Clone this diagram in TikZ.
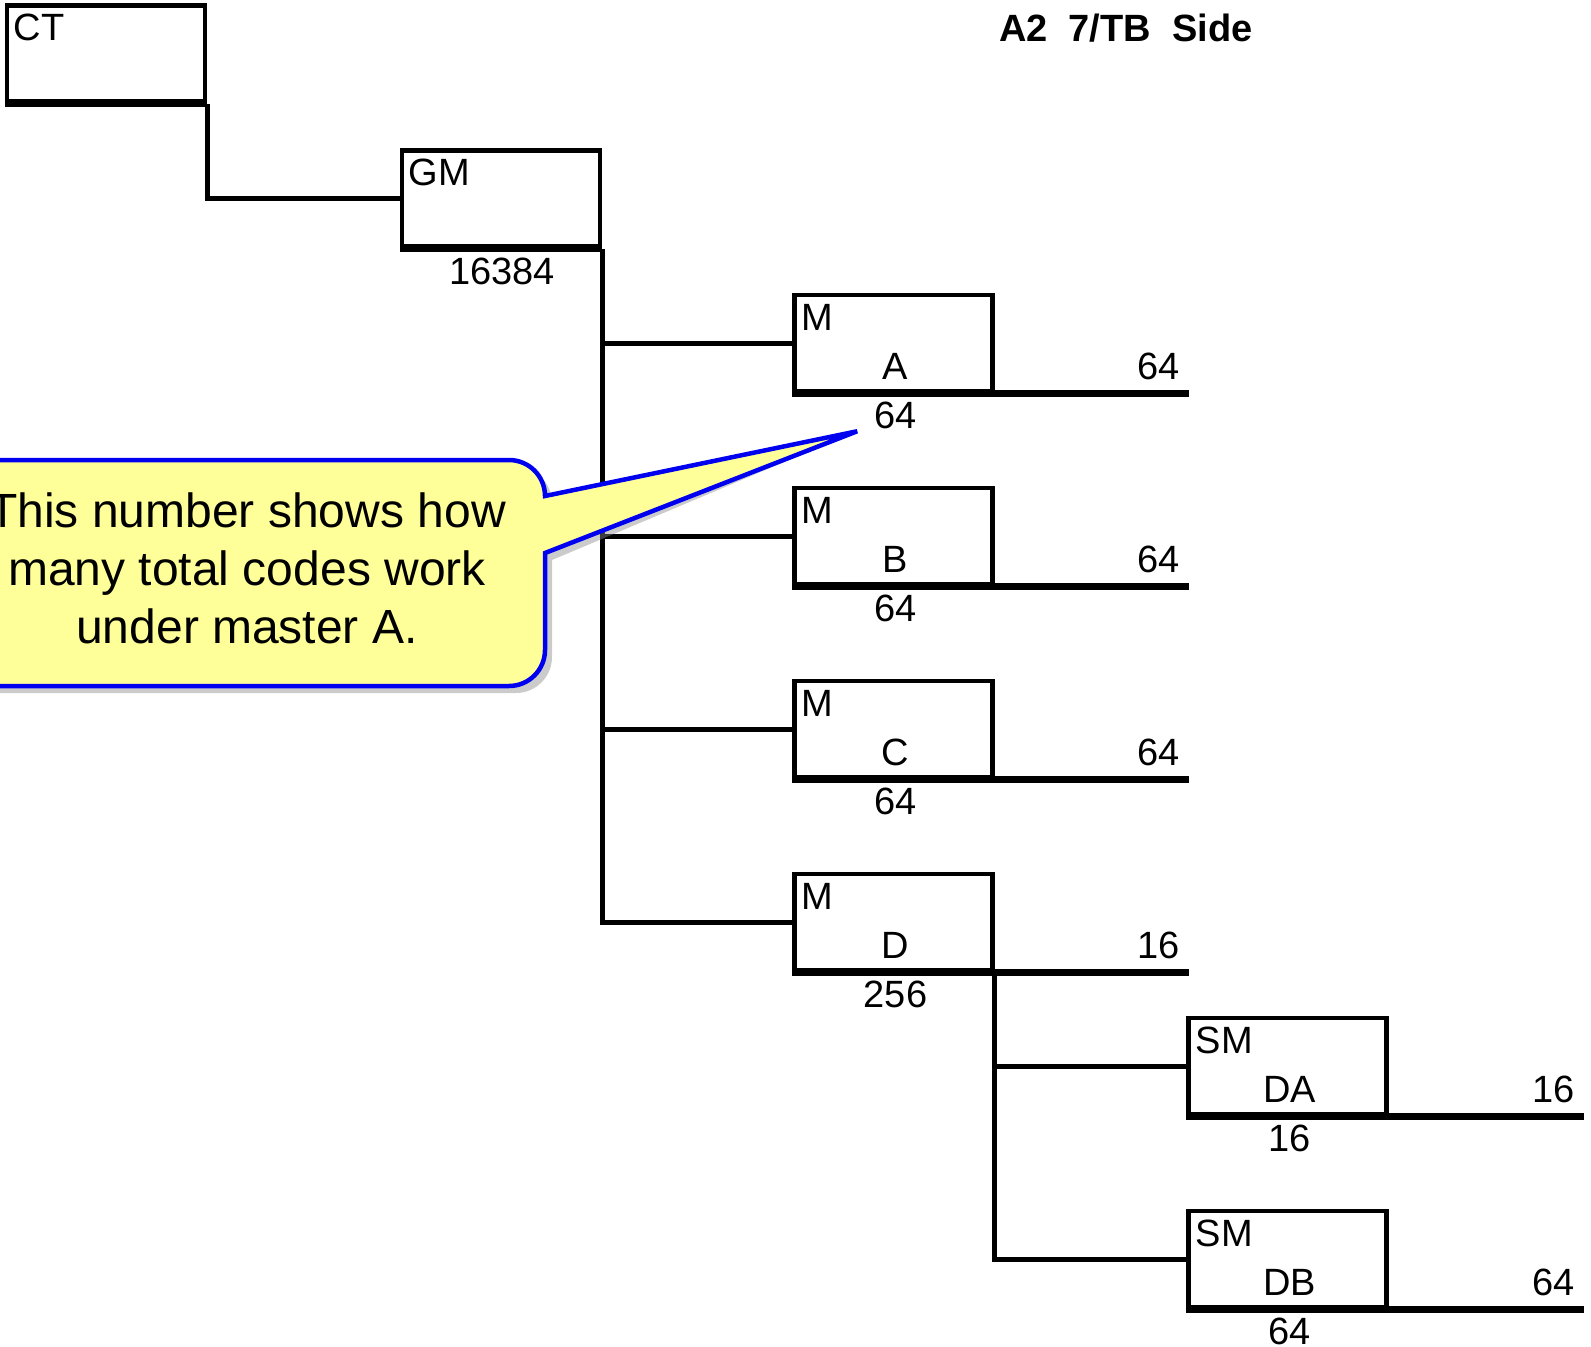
\documentclass[tikz,border=0pt]{standalone}
\usepackage{fontspec}
\setmainfont{Liberation Sans}
\usepackage{tikz}
\usetikzlibrary{positioning, calc}
\definecolor{NoteBlue}{RGB}{0, 0, 240}
\definecolor{NoteYellow}{RGB}{255, 255, 153}
\definecolor{NoteShadow}{RGB}{140, 140, 140}

\tikzset{
  unitbox/.style={draw, line width=4.5pt, minimum width=198pt, minimum height=96pt, inner sep=0pt},
  wire/.style={line width=5pt},
  bar/.style={line width=7pt},
  lbl/.style={inner sep=0pt, font=\fontsize{38}{44}\selectfont}
}

\begin{document}
\begin{tikzpicture}[x=1pt, y=-1pt]
  \useasboundingbox (0,0) rectangle (1591,1347);
  \node[anchor=base west, inner sep=0pt, font=\bfseries\fontsize{38}{44}\selectfont] (title) at (999,41) {A2\ \ 7/TB\ \ Side};

  \node[unitbox] (ct) at (106,53.5) {};
  \node[unitbox] (gm) at (501,198.5) {};
  \node[unitbox] (ma) at (893.5,343) {};
  \node[unitbox] (mb) at (893.5,536) {};
  \node[unitbox] (mc) at (893.5,729) {};
  \node[unitbox] (md) at (893.5,922) {};
  \node[unitbox] (sda) at (1287.7,1066) {};
  \node[unitbox] (sdb) at (1287.7,1259) {};
  \coordinate (endM) at (1189,0);
  \coordinate (endS) at (1584,0);

  \draw[wire] (ct.south east) |- (gm.west);
  \draw[wire] (gm.south east) |- (md.west);
  \foreach \b in {ma, mb, mc}
    \draw[wire] (gm.east |- \b.west) -- (\b.west);
  \draw[wire] (md.south east) |- (sdb.west);
  \draw[wire] (md.east |- sda.west) -- (sda.west);

  \draw[bar] (ct.south west) -- (ct.south east);
  \draw[bar] (gm.south west) -- (gm.south east);
  \node[lbl, anchor=base west] (ct-t) at ($(ct.north west)+(9,37)$) {CT};
  \node[lbl, anchor=base west] (gm-t) at ($(gm.north west)+(9,37)$) {GM};
  \node[lbl, anchor=base] (gm-n) at ($(gm.south)+(1,36)$) {16384};

  \foreach \b/\t/\m/\n/\r/\e in {ma/M/A/64/64/endM, mb/M/B/64/64/endM, mc/M/C/64/64/endM, md/M/D/256/16/endM, sda/SM/DA/16/16/endS, sdb/SM/DB/64/64/endS} {
    \draw[bar] (\b.south west) -- (\b.south east -| \e);
    \node[lbl, anchor=base west] (\b-t) at ($(\b.north west)+(9,38)$) {\t};
    \node[lbl, anchor=base] (\b-c) at ($(\b.south)+(2,-14)$) {\m};
    \node[lbl, anchor=base] (\b-n) at ($(\b.south)+(2,35)$) {\n};
    \node[lbl, anchor=base east] (\b-r) at ($(\b.south east -| \e)+(-9,-14)$) {\r};
  }

  \coordinate (tip) at ($(ma-n.base west)+(-17,3)$);
  \fill[NoteShadow, opacity=0.45, shift={(7pt,-7pt)}] (-20,460) -- (509,460) arc[start angle=-90, end angle=0, radius=36] -- (tip) -- (545,553) -- (545,650) arc[start angle=0, end angle=90, radius=36] -- (-20,686) -- cycle;
  \draw[NoteBlue, line width=4.5pt, fill=NoteYellow, line join=miter] (-20,460) -- (509,460) arc[start angle=-90, end angle=0, radius=36] -- (tip) -- (545,553) -- (545,650) arc[start angle=0, end angle=90, radius=36] -- (-20,686) -- cycle;
  \node[align=center, inner sep=0pt, font=\fontsize{48}{58}\selectfont] (note) at (247,568) {This number shows how\\many total codes work\\under master A.};
\end{tikzpicture}
\end{document}
